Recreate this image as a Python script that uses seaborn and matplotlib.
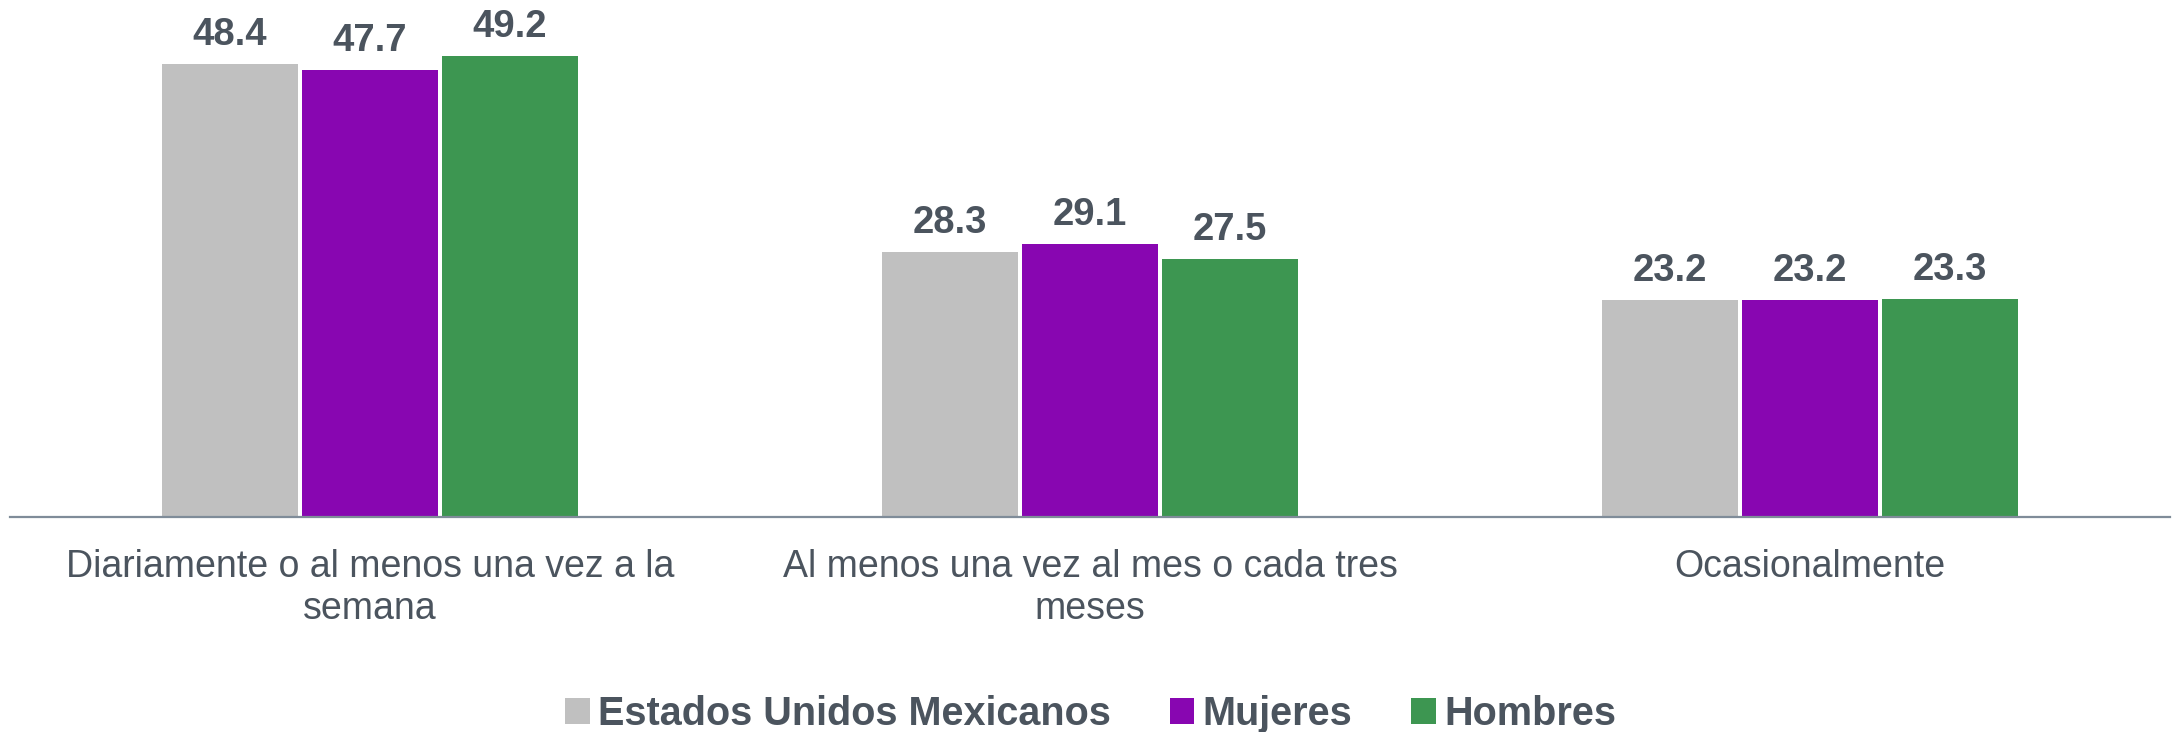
import pandas as pd
import seaborn as sns
import matplotlib.pyplot as plt

# Data
categories = ["Diariamente o al menos una vez a la\nsemana",
              "Al menos una vez al mes o cada tres\nmeses",
              "Ocasionalmente"]
series = ["Estados Unidos Mexicanos", "Mujeres", "Hombres"]
nacional = [48.4, 28.3, 23.2]
mujeres = [47.7, 29.1, 23.2]
hombres = [49.2, 27.5, 23.3]
colors = ["#C0C0C0", "#8806B1", "#3D9651"]

text_color = "#4B545E"
axis_color = "#7F8C99"

df = pd.DataFrame({
    "Categoria": categories * 3,
    "Serie": [series[0]] * 3 + [series[1]] * 3 + [series[2]] * 3,
    "Valor": nacional + mujeres + hombres,
})

sns.set_theme(style="white")
plt.rcParams["font.family"] = ["Liberation Sans", "DejaVu Sans"]

fig = plt.figure(figsize=(21.81, 7.32), dpi=100)
ax = fig.add_axes([10 / 2181, 1 - 517 / 732, 2160 / 2181, 517 / 732])

sns.barplot(data=df, x="Categoria", y="Valor", hue="Serie",
            palette=colors, width=0.583, gap=0.03, linewidth=0,
            saturation=1, ax=ax)

for cont in ax.containers:
    ax.bar_label(cont, fmt="%.1f", padding=8, fontsize=27.5,
                 fontweight="bold", color=text_color)

ax.set_xlim(-0.5, 2.5)
ax.set_ylim(0, 55.2)
ax.set_xlabel("")
ax.set_ylabel("")
ax.set_yticks([])
ax.tick_params(axis="x", length=0, pad=23, labelsize=27,
               labelcolor=text_color)
for s in ["top", "left", "right"]:
    ax.spines[s].set_visible(False)
ax.spines["bottom"].set_color(axis_color)
ax.spines["bottom"].set_linewidth(1.6)

handles, labels = ax.get_legend_handles_labels()
ax.legend_.remove()
fig.legend(handles, labels, loc="lower center", ncol=3, frameon=False,
           bbox_to_anchor=(0.5, -0.05),
           prop={"size": 28.5, "weight": "bold"}, labelcolor=text_color,
           handlelength=0.62, handleheight=0.62, handletextpad=0.2,
           columnspacing=1.5)

fig.savefig("out.png", dpi=100)
